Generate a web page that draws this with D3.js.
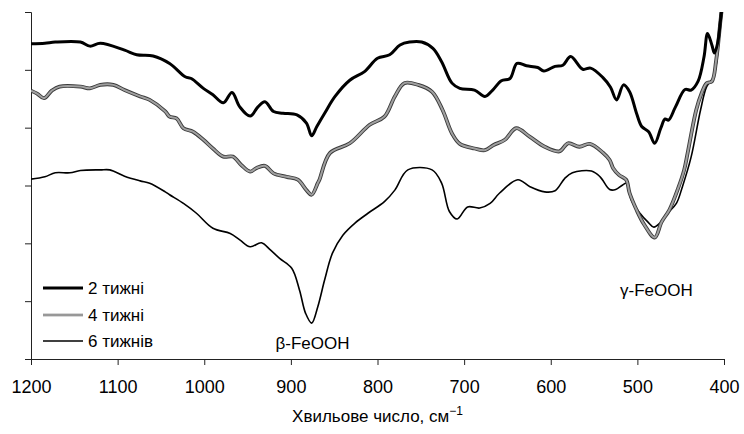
<!DOCTYPE html>
<html>
<head>
<meta charset="utf-8">
<script src="https://cdn.jsdelivr.net/npm/d3@7"></script>
<style>
	body { margin: 0; background: #fff; }
	svg { display: block; font-family: "Liberation Sans", Arial, sans-serif; }
</style>
</head>
<body>
<svg id="chart" width="744" height="434"></svg>
<script>
/*
 * IR spectra of rust samples after 2, 4 and 6 weeks
 */

// wavenumber (cm-1) and relative transmittance
const week2 = [
	[1200, 5.45], [1184, 5.46], [1172, 5.48], [1143, 5.48], [1132, 5.41], [1120, 5.46],
	[1092, 5.34], [1078, 5.26], [1059, 5.24], [1040, 5.11], [1022, 4.88], [1015, 4.85],
	[1001, 4.68], [990, 4.57], [978, 4.43], [968, 4.61], [959, 4.36], [947, 4.20],
	[938, 4.36], [930, 4.45], [920, 4.28], [909, 4.25], [893, 4.22], [882, 4.08],
	[876, 3.86], [870, 4.02], [861, 4.25], [849, 4.54], [832, 4.82], [815, 4.97],
	[800, 5.20], [786, 5.26], [774, 5.43], [763, 5.48], [749, 5.48], [736, 5.37],
	[726, 5.14], [714, 4.77], [705, 4.68], [688, 4.65], [676, 4.54], [667, 4.65],
	[657, 4.81], [647, 4.85], [639, 5.11], [628, 5.07], [615, 5.04], [608, 4.98],
	[595, 5.06], [586, 5.08], [577, 5.23], [563, 5.01], [554, 5.03], [540, 4.87],
	[531, 4.70], [524, 4.48], [516, 4.74], [509, 4.62], [501, 4.25], [495, 4.02],
	[487, 3.93], [480, 3.73], [473, 3.99], [468, 4.15], [464, 4.13], [456, 4.36],
	[445, 4.66], [438, 4.65], [430, 4.80], [423, 5.23], [419, 5.63], [414, 5.43],
	[411, 5.29], [407, 5.49], [404, 5.86], [402, 6.12]
];

const week4 = [
	[1200, 4.64], [1193, 4.59], [1185, 4.51], [1176, 4.64], [1167, 4.71], [1143, 4.71],
	[1132, 4.68], [1120, 4.74], [1105, 4.74], [1092, 4.65], [1074, 4.54], [1063, 4.48],
	[1045, 4.28], [1040, 4.19], [1032, 4.16], [1024, 3.99], [1013, 3.93], [1001, 3.79],
	[990, 3.64], [978, 3.50], [967, 3.50], [957, 3.35], [947, 3.24], [940, 3.30],
	[930, 3.34], [920, 3.21], [905, 3.15], [892, 3.10], [882, 2.92], [876, 2.84],
	[869, 3.04], [867, 3.10], [855, 3.56], [832, 3.73], [809, 4.05], [792, 4.19],
	[780, 4.54], [769, 4.77], [753, 4.74], [737, 4.62], [725, 4.31], [714, 3.90],
	[705, 3.72], [688, 3.64], [676, 3.61], [666, 3.70], [653, 3.79], [640, 3.99],
	[624, 3.84], [607, 3.67], [590, 3.59], [580, 3.73], [567, 3.67], [555, 3.72],
	[540, 3.57], [532, 3.44], [528, 3.30], [521, 3.18], [513, 3.10], [509, 2.87],
	[501, 2.58], [492, 2.32], [480, 2.10], [472, 2.37], [463, 2.58], [453, 2.95],
	[446, 3.27], [442, 3.56], [432, 4.31], [426, 4.59], [420, 4.77], [414, 4.80],
	[409, 5.17], [404, 5.86], [402, 6.12]
];

const week6 = [
	[1200, 3.11], [1184, 3.15], [1172, 3.22], [1155, 3.22], [1143, 3.26], [1120, 3.27],
	[1109, 3.27], [1092, 3.16], [1074, 3.08], [1063, 3.04], [1045, 2.89], [1040, 2.84],
	[1024, 2.69], [1009, 2.52], [990, 2.26], [970, 2.17], [959, 2.06], [947, 1.94],
	[934, 2.01], [924, 1.89], [913, 1.74], [899, 1.57], [890, 1.19], [883, 0.79],
	[876, 0.62], [869, 0.90], [861, 1.37], [852, 1.83], [840, 2.14], [826, 2.35],
	[811, 2.52], [792, 2.72], [780, 2.92], [765, 3.27], [737, 3.27], [726, 3.04],
	[717, 2.55], [708, 2.42], [696, 2.63], [682, 2.61], [670, 2.69], [659, 2.87],
	[638, 3.10], [624, 2.98], [607, 2.89], [595, 2.91], [584, 3.12], [575, 3.22],
	[553, 3.25], [543, 3.15], [532, 2.93], [525, 2.93], [517, 3.01], [512, 3.04],
	[507, 2.75], [497, 2.52], [488, 2.37], [481, 2.28], [474, 2.35], [465, 2.52],
	[455, 2.69], [448, 2.98], [438, 3.49], [427, 4.31], [420, 4.71], [412, 4.88],
	[407, 5.34], [404, 5.98], [402, 6.20]
];

const seriesNames = ['2 тижні', '4 тижні', '6 тижнів'];
const xTicks = [1200, 1100, 1000, 900, 800, 700, 600, 500, 400];
const yTicks = [0, 1, 2, 3, 4, 5, 6];
const peakLabels = [['β-FeOOH', 875, 0.28], ['γ-FeOOH', 478, 1.19]];


class SpectraChart {

	constructor(selector) {
		this.svg = d3.select(selector);
		this.margin = { top: 12, left: 31, right: 20, bottom: 75 };
		this.width = 744 - this.margin.left - this.margin.right;
		this.height = 434 - this.margin.top - this.margin.bottom;

		this.x = d3.scaleLinear().domain([1200, 400]).range([0, this.width]);
		this.y = d3.scaleLinear().domain([0, 6]).range([this.height, 0]);

		this.g = this.svg.append('g')
			.attr('transform', 'translate(' + this.margin.left + ',' + this.margin.top + ')');

		this.createChart();
	}

	_addAxes() {
		let xAxis = d3.axisBottom(this.x)
			.tickValues(xTicks)
			.tickSize(6)
			.tickPadding(15)
			.tickFormat(d3.format('d'));

		let gx = this.g.append('g')
			.attr('transform', 'translate(0,' + this.height + ')')
			.call(xAxis);
		gx.selectAll('text').style('font-size', '18px').attr('fill', '#000');

		let yAxis = d3.axisLeft(this.y)
			.tickValues(yTicks)
			.tickSize(6)
			.tickFormat('');
		this.g.append('g').call(yAxis);

		this.g.selectAll('.domain, .tick line').attr('stroke', '#222');

		// axis title with superscript
		let title = this.g.append('text')
			.attr('x', this.width / 2)
			.attr('y', this.height + 63)
			.attr('text-anchor', 'middle')
			.style('font-size', '17px');
		title.append('tspan').text('Хвильове число, см');
		title.append('tspan').text('−1').attr('dy', -7).style('font-size', '12px');
	}

	_addLines() {
		this.g.append('clipPath').attr('id', 'plotclip')
			.append('rect').attr('width', this.width).attr('height', this.height);

		let line = d3.line()
			.x(d => this.x(d[0]))
			.y(d => this.y(d[1]))
			.curve(d3.curveCatmullRom.alpha(0.5));

		let lines = this.g.append('g').attr('clip-path', 'url(#plotclip)');

		lines.append('path').datum(week6)
			.attr('d', line).attr('fill', 'none')
			.attr('stroke', '#000').attr('stroke-width', 1.6);

		lines.append('path').datum(week4)
			.attr('d', line).attr('fill', 'none')
			.attr('stroke', '#3a3a3a').attr('stroke-width', 3.8);
		lines.append('path').datum(week4)
			.attr('d', line).attr('fill', 'none')
			.attr('stroke', '#a0a0a0').attr('stroke-width', 2);

		lines.append('path').datum(week2)
			.attr('d', line).attr('fill', 'none')
			.attr('stroke', '#000').attr('stroke-width', 3)
			.attr('stroke-linejoin', 'round');
	}

	_addLegend() {
		let leg = this.svg.append('g');
		let rows = [288, 315, 341];

		seriesNames.forEach((name, i) => {
			let r = leg.append('g').attr('transform', 'translate(43,' + rows[i] + ')');
			if (i === 1) {
				r.append('line').attr('x2', 40).attr('stroke', '#666').attr('stroke-width', 2.6);
				r.append('line').attr('x2', 40).attr('stroke', '#aaa').attr('stroke-width', 1.4);
			} else {
				r.append('line').attr('x2', 40).attr('stroke', '#000')
					.attr('stroke-width', i === 0 ? 3 : 1.6);
			}
			r.append('text').text(name)
				.attr('x', 45).attr('dy', '0.35em')
				.style('font-size', '17px');
		});
	}

	_addPeakLabels() {
		this.g.selectAll('.peak')
			.data(peakLabels)
			.enter()
			.append('text')
			.attr('class', 'peak')
			.attr('x', d => this.x(d[1]))
			.attr('y', d => this.y(d[2]))
			.attr('dy', '0.35em')
			.attr('text-anchor', 'middle')
			.style('font-size', '17px')
			.text(d => d[0]);
	}

	createChart() {
		this._addAxes();
		this._addLines();
		this._addLegend();
		this._addPeakLabels();
	}
}

new SpectraChart('#chart');
</script>
</body>
</html>
